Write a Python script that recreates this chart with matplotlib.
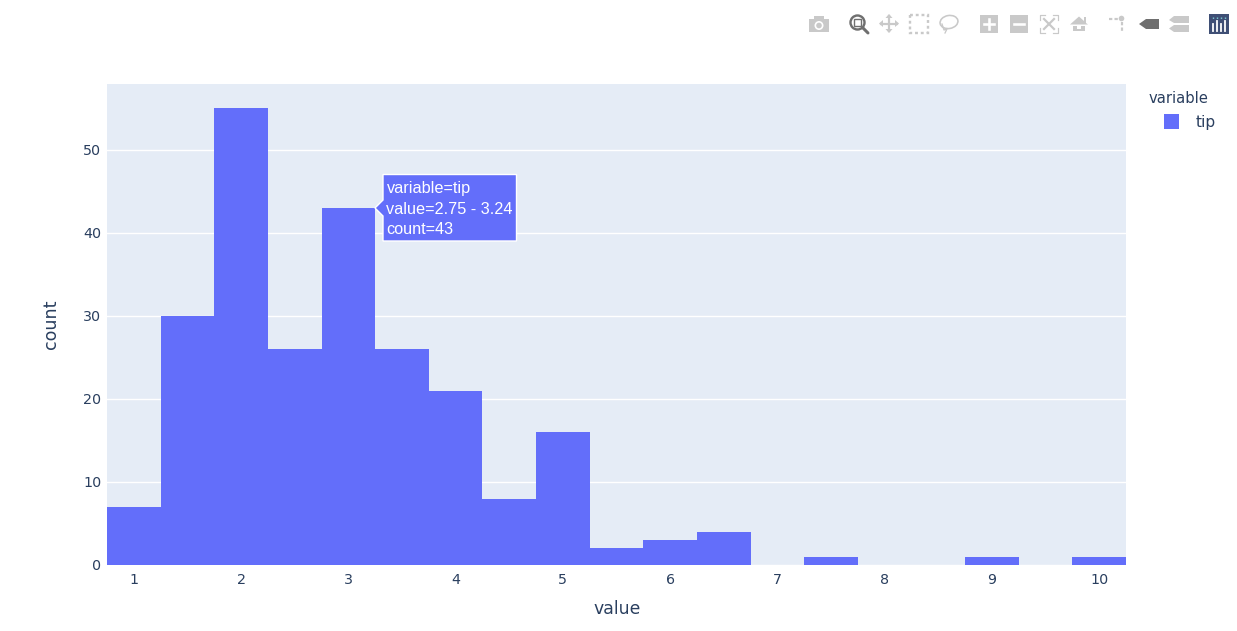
import matplotlib
matplotlib.use("Agg")
import matplotlib.pyplot as plt
import numpy as np
from matplotlib.patches import Rectangle, Polygon, Circle, Ellipse

### Data ###
bin_edges = [0.75, 1.25, 1.75, 2.25, 2.75, 3.25, 3.75, 4.25, 4.75, 5.25,
             5.75, 6.25, 6.75, 7.25, 7.75, 8.25, 8.75, 9.25, 9.75, 10.25]
counts = [7, 30, 55, 26, 43, 26, 21, 8, 16, 2, 3, 4, 0, 1, 0, 0, 1, 0, 1]
x_ticks = [1, 2, 3, 4, 5, 6, 7, 8, 9, 10]
y_ticks = [0, 10, 20, 30, 40, 50]
hover_lines = ["variable=tip", "value=2.75 - 3.24", "count=43"]

### Style ###
W, H = 1237, 631
BAR = "#636efa"
BG = "#e5ecf6"
INK = "#2a3f5f"
ICON = "#c9c9c9"
ICON_ON = "#6f6f6f"
px = 100 / 72  # pt -> px at dpi 100, sizes below are given in px

fig = plt.figure(figsize=(W / 100, H / 100), dpi=100)

# plot area in pixels: x 107-1126, y 84-565
ax = fig.add_axes([107 / W, 1 - 565 / H, (1126 - 107) / W, (565 - 84) / H])
ax.set_facecolor(BG)
ax.stairs(counts, bin_edges, fill=True, color=BAR, linewidth=0, zorder=3)
ax.set_xlim(0.75, 10.25)
ax.set_ylim(0, 55 * 20 / 19)
ax.set_xticks(x_ticks)
ax.set_yticks(y_ticks)
ax.grid(axis="y", color="white", linewidth=1)
ax.set_axisbelow(True)
ax.tick_params(length=0, labelsize=14.3 / px, labelcolor=INK, pad=6)
ax.tick_params(axis="y", pad=4)
for s in ax.spines.values():
    s.set_visible(False)

### Overlay in pixel coordinates for hover box, legend, toolbar ###
ov = fig.add_axes([0, 0, 1, 1], facecolor="none", zorder=5)
ov.set_xlim(0, W)
ov.set_ylim(H, 0)
ov.axis("off")

ov.text(617, 609, "value", ha="center", va="center", color=INK, fontsize=17.3 / px)
ov.text(51, 324, "count", ha="center", va="center", rotation=90, color=INK, fontsize=17.5 / px)

# legend
ov.text(1149, 98.5, "variable", ha="left", va="center", color=INK, fontsize=14.8 / px)
ov.add_patch(Rectangle((1164, 114), 15, 15, color=BAR, lw=0))
ov.text(1196, 122.5, "tip", ha="left", va="center", color=INK, fontsize=15.5 / px)

# hover label
ov.add_patch(Polygon([(375, 208), (383, 200), (383, 174.5), (516.5, 174.5), (516.5, 241),
                      (383, 241), (383, 216)], closed=True, facecolor=BAR,
                     edgecolor="white", linewidth=1))
for line, y in zip(hover_lines, [188, 209, 230]):
    ov.text(386.5, y, line, ha="left", va="center", color="white",
            family="Liberation Sans", fontsize=16.3 / px)

# camera
ov.add_patch(Rectangle((809, 19), 20, 13, color=ICON, lw=0))
ov.add_patch(Rectangle((814, 16), 10, 4, color=ICON, lw=0))
ov.add_patch(Circle((819, 25.5), 4.5, color="white", lw=0))
ov.add_patch(Circle((819, 25.5), 2.8, color=ICON, lw=0))

# zoom (active)
ov.plot([863, 868], [28, 33], color=ICON_ON, lw=3 / px, solid_capstyle="round")
ov.add_patch(Circle((857.5, 22.5), 7, facecolor="none", edgecolor=ICON_ON, lw=2.4 / px))
ov.add_patch(Rectangle((854, 19), 7, 7, facecolor="none", edgecolor=ICON_ON, lw=1.4 / px))

# pan
ov.plot([881, 897], [23.5, 23.5], color=ICON, lw=2.2 / px)
ov.plot([889, 889], [16, 31], color=ICON, lw=2.2 / px)
ov.add_patch(Polygon([(879, 23.5), (883, 20), (883, 27)], color=ICON, lw=0))
ov.add_patch(Polygon([(899, 23.5), (895, 20), (895, 27)], color=ICON, lw=0))
ov.add_patch(Polygon([(889, 14), (885.5, 18), (892.5, 18)], color=ICON, lw=0))
ov.add_patch(Polygon([(889, 33), (885.5, 29), (892.5, 29)], color=ICON, lw=0))

# box select, dotted outline
ov.add_patch(Rectangle((910, 15), 18, 18, facecolor="none", edgecolor=ICON, lw=2.4 / px,
                       linestyle=(0, (1.2, 1.2))))

# lasso
ov.add_patch(Ellipse((949, 22), 18, 13, angle=-10, facecolor="none", edgecolor=ICON, lw=1.6 / px))
ov.plot([942, 944, 947, 945], [24, 30, 29, 33], color=ICON, lw=1.3 / px)

# zoom in / zoom out
ov.add_patch(Rectangle((980, 15), 18, 18, color=ICON, lw=0))
ov.plot([984, 994], [24, 24], color="white", lw=2.6 / px)
ov.plot([989, 989], [19, 29], color="white", lw=2.6 / px)
ov.add_patch(Rectangle((1010, 15), 18, 18, color=ICON, lw=0))
ov.plot([1014, 1024], [24, 24], color="white", lw=2.6 / px)

# autoscale, corner brackets round a small x
for cx, sx in [(1040, 1), (1058, -1)]:
    for cy, sy in [(15, 1), (33, -1)]:
        ov.plot([cx + 5 * sx, cx, cx], [cy, cy, cy + 5 * sy], color=ICON, lw=1.2 / px)
ov.plot([1044, 1054], [19, 29], color=ICON, lw=2.2 / px)
ov.plot([1044, 1054], [29, 19], color=ICON, lw=2.2 / px)

# home
ov.add_patch(Polygon([(1070, 24.5), (1079, 16.5), (1084, 21), (1084, 17), (1086, 17),
                      (1086, 23), (1088, 24.5)], color=ICON, lw=0))
ov.add_patch(Polygon([(1073, 25.5), (1077, 25.5), (1077, 31), (1073, 31)], color=ICON, lw=0))
ov.add_patch(Polygon([(1081, 25.5), (1085, 25.5), (1085, 31), (1081, 31)], color=ICON, lw=0))
ov.add_patch(Rectangle((1077, 29), 4, 2, color=ICON, lw=0))

# spike lines
ov.plot([1109, 1118], [18.5, 18.5], color=ICON, lw=2.2 / px, linestyle=(0, (1.5, 1)))
ov.plot([1121.5, 1121.5], [22, 31], color=ICON, lw=2.2 / px, linestyle=(0, (1.5, 1)))
ov.add_patch(Circle((1121.5, 18.5), 2.8, color=ICON, lw=0))

# hover closest (active) and compare
ov.add_patch(Polygon([(1139, 24), (1146, 19), (1159, 19), (1159, 29), (1146, 29)], color=ICON_ON, lw=0))
ov.add_patch(Polygon([(1169, 20), (1174, 16), (1189, 16), (1189, 23), (1174, 23)], color=ICON, lw=0))
ov.add_patch(Polygon([(1169, 28.5), (1174, 25), (1189, 25), (1189, 32), (1174, 32)], color=ICON, lw=0))

# plotly logo
ov.add_patch(Rectangle((1209, 14), 20, 20, color="#3f4f75", lw=0))
for bx, top in zip([1212.5, 1216.5, 1220.5, 1224.5], [24, 21, 24, 21]):
    ov.plot([bx, bx], [top, 31], color="white", lw=1.8 / px)
    ov.plot([bx, bx], [17, 19], color="#7fd0d8", lw=1.4 / px, linestyle=(0, (1, 1)))

fig.savefig("out.png", dpi=100, facecolor="white")
